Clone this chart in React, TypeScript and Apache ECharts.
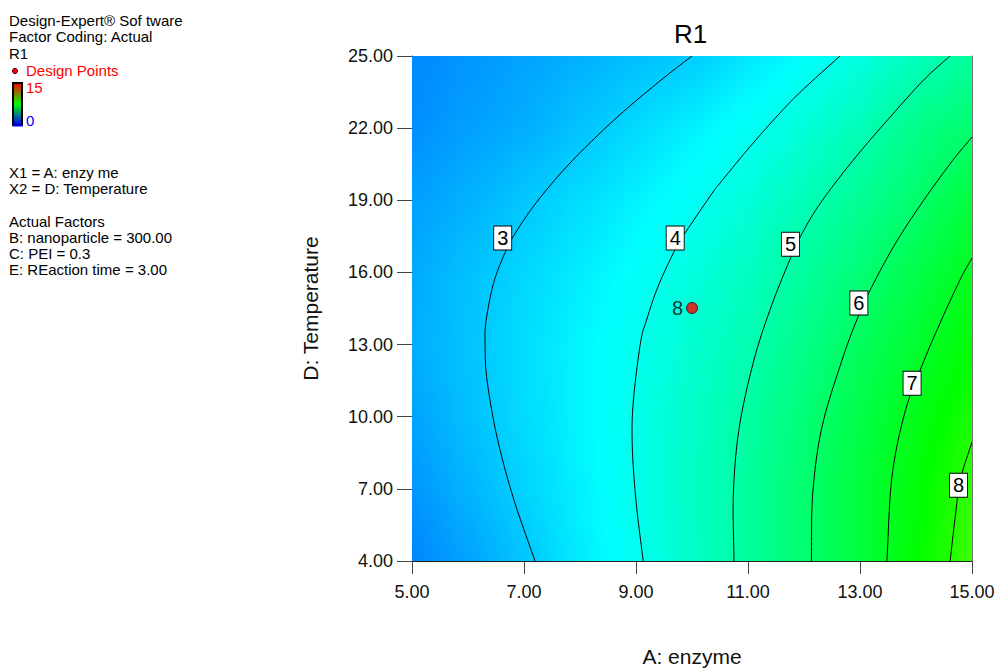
import React, { useEffect, useRef } from "react";
import * as echarts from "echarts";

// ---- axes ----
const xTicks = [5, 7, 9, 11, 13, 15];
const yTicks = [4, 7, 10, 13, 16, 19, 22, 25];

// ---- response surface (grid of estimated R1 values) ----
const surfaceX = [5, 6, 7, 8, 9, 10, 11, 12, 13, 14, 15];
const surfaceY = [4, 7, 10, 13, 16, 19, 22, 25];
const zAtY4 = [1.95, 2.4, 2.9, 3.47, 3.94, 4.55, 5.19, 5.89, 6.64, 7.47, 8.35];
const zAtY7 = [2.2, 2.65, 3.11, 3.56, 4.02, 4.6, 5.2, 5.88, 6.61, 7.38, 8.2];
const zAtY10 = [2.4, 2.82, 3.22, 3.63, 4.04, 4.56, 5.1, 5.76, 6.45, 7.17, 7.85];
const zAtY13 = [2.55, 2.89, 3.25, 3.62, 3.98, 4.43, 4.89, 5.5, 6.15, 6.8, 7.45];
const zAtY16 = [2.5, 2.83, 3.16, 3.49, 3.82, 4.22, 4.68, 5.18, 5.77, 6.42, 7.1];
const zAtY19 = [2.35, 2.6, 2.93, 3.25, 3.57, 3.89, 4.32, 4.8, 5.33, 5.9, 6.6];
const zAtY22 = [2.1, 2.35, 2.55, 2.87, 3.21, 3.54, 3.88, 4.32, 4.81, 5.5, 5.93];
const zAtY25 = [2.0, 2.2, 2.4, 2.6, 2.8, 3.0, 3.38, 3.76, 4.18, 4.69, 5.2];
const surfaceRows = [zAtY4, zAtY7, zAtY10, zAtY13, zAtY16, zAtY19, zAtY22, zAtY25];

// ---- colour scale (0 blue .. 15 red) ----
const colorScaleValues = [0, 3.75, 7.5, 11.25, 15];
const colorScaleRGB = [
  [0, 0, 255],
  [0, 255, 255],
  [0, 255, 0],
  [255, 255, 0],
  [255, 0, 0],
];

// ---- contour lines [A: enzyme, D: Temperature] ----
const contour3 = [[10.0, 25], [9.448, 24.0], [8.666, 22.46], [7.871, 20.67], [7.254, 19.01], [6.846, 17.64], [6.659, 16.81], [6.457, 15.56], [6.325, 14.02], [6.304, 13.06], [6.339, 11.53], [6.518, 9.16], [6.804, 6.66], [7.196, 4]];
const contour4 = [[12.643, 25], [11.916, 23.46], [11.457, 22.34], [10.986, 21.09], [10.502, 19.72], [10.339, 19.22], [9.854, 17.56], [9.677, 16.85], [9.389, 15.39], [9.189, 14.02], [9.079, 13.06], [8.95, 10.57], [8.934, 8.74], [9.004, 6.41], [9.129, 4]];
const contour5 = [[14.607, 25], [14.136, 24.0], [13.493, 22.34], [12.879, 20.67], [12.295, 18.89], [11.952, 17.56], [11.746, 16.52], [11.411, 14.56], [11.107, 12.36], [10.845, 9.57], [10.739, 6.83], [10.75, 4]];
const contour6 = [[15, 21.63], [14.62, 20.55], [14.054, 18.72], [13.596, 17.06], [13.182, 15.27], [12.964, 14.15], [12.68, 12.36], [12.321, 9.57], [12.157, 6.83], [12.132, 4]];
const contour7 = [[15, 16.6], [14.784, 15.68], [14.398, 13.73], [14.075, 11.94], [13.798, 10.15], [13.57, 7.49], [13.48, 4]];
const contour8 = [[15, 8.95], [14.79, 7.37], [14.7, 5.83], [14.61, 4]];
const contours = [contour3, contour4, contour5, contour6, contour7, contour8];

// ---- contour labels [x, y, level] ----
const contourLabels = [
  [6.62, 17.43, "3"],
  [9.7, 17.43, "4"],
  [11.76, 17.17, "5"],
  [12.98, 14.73, "6"],
  [13.93, 11.39, "7"],
  [14.76, 7.15, "8"],
];

// ---- design point [x, y, replicates] ----
const designPoints = [[10.0, 14.52, "8"]];

// ---- side legend texts ----
const headerLines = ["Design-Expert® Sof tware", "Factor Coding: Actual", "R1"];
const factorLines = ["X1 = A: enzy me", "X2 = D: Temperature"];
const actualFactorLines = ["Actual Factors", "B: nanoparticle = 300.00", "C: PEI = 0.3", "E: REaction time = 3.00"];
const scaleHigh = "15";
const scaleLow = "0";

const FONT = "'Liberation Sans', Arial, Helvetica, sans-serif";

function colorFor(v: number): string {
  const vals = colorScaleValues;
  let i = 0;
  if (v <= vals[0]) i = 0;
  else if (v >= vals[vals.length - 1]) i = vals.length - 2;
  else {
    while (i < vals.length - 2 && v > vals[i + 1]) i++;
  }
  let t = (v - vals[i]) / (vals[i + 1] - vals[i]);
  t = Math.max(0, Math.min(1, t));
  const a = colorScaleRGB[i];
  const b = colorScaleRGB[i + 1];
  const r = Math.round(a[0] + (b[0] - a[0]) * t);
  const g = Math.round(a[1] + (b[1] - a[1]) * t);
  const bl = Math.round(a[2] + (b[2] - a[2]) * t);
  return `rgb(${r},${g},${bl})`;
}

function buildCells() {
  const cells: number[][] = [];
  for (let j = 0; j < surfaceY.length - 1; j++) {
    for (let i = 0; i < surfaceX.length - 1; i++) {
      cells.push([
        surfaceX[i],
        surfaceY[j],
        surfaceX[i + 1],
        surfaceY[j + 1],
        surfaceRows[j][i],
        surfaceRows[j][i + 1],
        surfaceRows[j + 1][i],
        surfaceRows[j + 1][i + 1],
      ]);
    }
  }
  return cells;
}

function renderSurfaceCell(_params: any, api: any) {
  const x0 = api.value(0);
  const y0 = api.value(1);
  const x1 = api.value(2);
  const y1 = api.value(3);
  const v00 = api.value(4);
  const v10 = api.value(5);
  const v01 = api.value(6);
  const v11 = api.value(7);
  const p0 = api.coord([x0, y0]);
  const p1 = api.coord([x1, y1]);
  const left = p0[0];
  const right = p1[0];
  const bottom = p0[1];
  const top = p1[1];
  const w = right - left;
  const h = bottom - top;
  const n = Math.max(1, Math.ceil(w / 3));
  const children: any[] = [];
  const segs = 6;
  for (let k = 0; k < n; k++) {
    const tm = (k + 0.5) / n;
    const vb = v00 * (1 - tm) + v10 * tm;
    const vt = v01 * (1 - tm) + v11 * tm;
    const stops = [];
    for (let s = 0; s <= segs; s++) {
      const f = s / segs;
      stops.push({ offset: f, color: colorFor(vt + (vb - vt) * f) });
    }
    children.push({
      type: "rect",
      shape: { x: left + (k * w) / n, y: top - 0.4, width: w / n + 0.7, height: h + 0.8 },
      style: { fill: new echarts.graphic.LinearGradient(0, 0, 0, 1, stops), stroke: null },
      silent: true,
    });
  }
  return { type: "group", children };
}

// Catmull-Rom curve through pixel points (drawing only)
function splinePixels(pts: number[][], per = 14): number[][] {
  const out: number[][] = [];
  const n = pts.length;
  if (n < 2) return pts;
  for (let i = 0; i < n - 1; i++) {
    const p1 = pts[i];
    const p2 = pts[i + 1];
    const p0 = i > 0 ? pts[i - 1] : [2 * p1[0] - p2[0], 2 * p1[1] - p2[1]];
    const p3 = i + 2 < n ? pts[i + 2] : [2 * p2[0] - p1[0], 2 * p2[1] - p1[1]];
    for (let s = 0; s < per; s++) {
      const t = s / per;
      const t2 = t * t;
      const t3 = t2 * t;
      const q = [0, 1].map(
        (d) =>
          0.5 *
          (2 * p1[d] +
            (-p0[d] + p2[d]) * t +
            (2 * p0[d] - 5 * p1[d] + 4 * p2[d] - p3[d]) * t2 +
            (-p0[d] + 3 * p1[d] - 3 * p2[d] + p3[d]) * t3)
      );
      out.push(q);
    }
  }
  out.push(pts[n - 1]);
  return out;
}

function makeContourSeries(points: number[][], idx: number) {
  return {
    type: "custom",
    name: "contour " + (idx + 3),
    data: points,
    encode: { x: 0, y: 1 },
    clip: true,
    silent: true,
    z: 3,
    renderItem: (params: any, api: any) => {
      if (params.dataIndex !== 0) return null;
      const px = points.map((p) => api.coord(p));
      return {
        type: "polyline",
        shape: { points: splinePixels(px) },
        style: { stroke: "#000", lineWidth: 1, fill: null },
        silent: true,
      };
    },
  };
}

function buildGraphic() {
  const g: any[] = [];
  const text = (t: string, x: number, y: number, color = "#000") => ({
    type: "text",
    left: x,
    top: y - 8.5,
    style: { text: t, fill: color, fontSize: 15, fontFamily: FONT },
    silent: true,
  });
  headerLines.forEach((t, i) => g.push(text(t, 9, 21 + i * 16.5)));
  g.push({
    type: "circle",
    shape: { cx: 15, cy: 71, r: 2.6 },
    style: { fill: "#ff0000", stroke: "#300", lineWidth: 1 },
    silent: true,
  });
  g.push(text("Design Points", 26, 71, "#ff0000"));
  g.push({
    type: "rect",
    shape: { x: 13, y: 83, width: 9, height: 42 },
    style: {
      fill: new echarts.graphic.LinearGradient(0, 0, 0, 1, [
        { offset: 0, color: "#ff0000" },
        { offset: 0.5, color: "#00ff00" },
        { offset: 1, color: "#0000ff" },
      ]),
      stroke: "#000",
      lineWidth: 2,
    },
    silent: true,
  });
  g.push({
    type: "rect",
    shape: { x: 12.5, y: 124.5, width: 10.5, height: 2 },
    style: { fill: "#0000ff" },
    silent: true,
  });
  g.push(text(scaleHigh, 26, 88, "#ff0000"));
  g.push(text(scaleLow, 26, 121, "#0000ff"));
  factorLines.forEach((t, i) => g.push(text(t, 9, 173 + i * 16)));
  actualFactorLines.forEach((t, i) => g.push(text(t, 9, 222 + i * 16.3)));
  g.push({
    type: "text",
    left: 674,
    top: 21,
    style: { text: "R1", fill: "#000", fontSize: 26, fontFamily: FONT },
    silent: true,
  });
  return g;
}

export default function App() {
  const ref = useRef<HTMLDivElement>(null);
  useEffect(() => {
    if (!ref.current) return;
    const chart = echarts.init(ref.current, undefined, { renderer: "svg" });
    const contourSeries = contours.map((c, i) => makeContourSeries(c, i));
    const option: any = {
      animation: false,
      backgroundColor: "#fff",
      textStyle: { fontFamily: FONT },
      grid: { left: 412, top: 56, width: 560, height: 505, show: false, outerBoundsMode: "none", containLabel: false },
      xAxis: [
        {
          type: "value",
          min: 5,
          max: 15,
          position: "bottom",
          axisLine: { show: true, onZero: false, lineStyle: { color: "#222", width: 1 } },
          axisTick: { show: true, customValues: xTicks, length: 13, lineStyle: { color: "#444" } },
          axisLabel: {
            show: true,
            customValues: xTicks,
            formatter: (v: number) => v.toFixed(2),
            fontSize: 18,
            color: "#111",
            margin: 22,
            fontFamily: FONT,
          },
          splitLine: { show: false },
          name: "A: enzyme",
          nameLocation: "middle",
          nameGap: 85,
          nameTextStyle: { fontSize: 21, color: "#111", fontFamily: FONT },
        },
        {
          type: "value",
          min: 5,
          max: 15,
          position: "top",
          axisLine: { show: true, onZero: false, lineStyle: { color: "#777", width: 1 } },
          axisTick: { show: false },
          axisLabel: { show: false },
          splitLine: { show: false },
        },
      ],
      yAxis: [
        {
          type: "value",
          min: 4,
          max: 25,
          position: "left",
          axisLine: { show: true, onZero: false, lineStyle: { color: "#222", width: 1 } },
          axisTick: { show: true, customValues: yTicks, length: 15, lineStyle: { color: "#444" } },
          axisLabel: {
            show: true,
            customValues: yTicks,
            formatter: (v: number) => v.toFixed(2),
            fontSize: 18,
            color: "#111",
            margin: 19,
            fontFamily: FONT,
          },
          splitLine: { show: false },
          name: "D: Temperature",
          nameLocation: "middle",
          nameGap: 91,
          nameTextStyle: { fontSize: 21, color: "#111", fontFamily: FONT },
        },
        {
          type: "value",
          min: 4,
          max: 25,
          position: "right",
          axisLine: { show: true, onZero: false, lineStyle: { color: "#777", width: 1 } },
          axisTick: { show: false },
          axisLabel: { show: false },
          splitLine: { show: false },
        },
      ],
      series: [
        {
          type: "custom",
          name: "surface",
          data: buildCells(),
          renderItem: renderSurfaceCell,
          encode: { x: [0, 2], y: [1, 3] },
          clip: true,
          silent: true,
          z: 1,
        },
        ...contourSeries,
        {
          type: "scatter",
          name: "contour labels",
          data: contourLabels,
          symbol: "rect",
          symbolSize: [18, 24],
          itemStyle: { color: "#ffffff", borderColor: "#000", borderWidth: 1, opacity: 1 },
          silent: true,
          z: 5,
          label: {
            show: true,
            position: "inside",
            formatter: (p: any) => p.value[2],
            fontSize: 20,
            color: "#000",
            fontFamily: FONT,
          },
        },
        {
          type: "scatter",
          name: "Design Points",
          data: designPoints,
          symbol: "circle",
          symbolSize: 11,
          itemStyle: { color: "#ff0000", borderColor: "#400", borderWidth: 1 },
          silent: true,
          z: 6,
          label: {
            show: true,
            position: "left",
            distance: 3,
            formatter: (p: any) => p.value[2],
            fontSize: 20,
            color: "#000",
            fontFamily: FONT,
          },
        },
      ],
      graphic: buildGraphic(),
    };
    chart.setOption(option);
    return () => chart.dispose();
  }, []);
  return (
    <div
      ref={ref}
      style={{ position: "fixed", left: 0, top: 0, width: 995, height: 669, background: "#fff" }}
    />
  );
}
